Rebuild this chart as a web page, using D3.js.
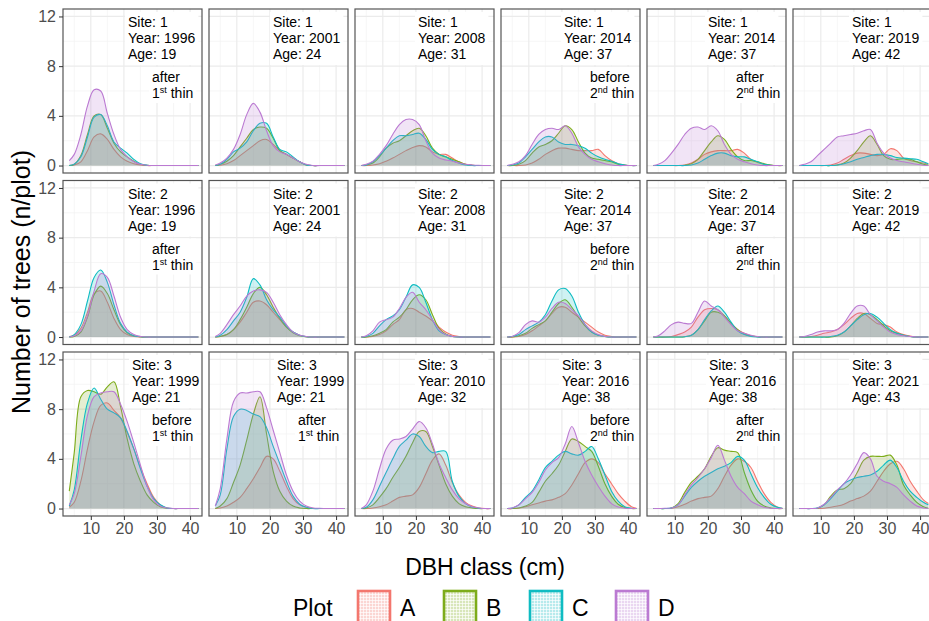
<!DOCTYPE html>
<html>
<head>
<meta charset="utf-8">
<script src="https://cdn.jsdelivr.net/npm/d3@7"></script>
<style>
  html, body { margin: 0; padding: 0; background: #fff; overflow: hidden; }
  svg { display: block; }
</style>
</head>
<body>
<div id="chart"></div>
<script>
// ---- data ----
const plots = ['A', 'B', 'C', 'D']
const plotColors = ['#F3776E', '#7DAC1A', '#0FBCC2', '#BB7AD2']
const dbh = [3.5, 5, 7, 9, 11, 13, 15, 17, 19, 21, 23, 25, 27, 29, 31, 33, 35, 37, 39, 41, 42.5]
const xTicks = [10, 20, 30, 40]
const xMinor = [5, 15, 25, 35]
const yTicks = [0, 4, 8, 12]
const yMinor = [2, 6, 10]

const sites = ['1', '1', '1', '1', '1', '1', '2', '2', '2', '2', '2', '2', '3', '3', '3', '3', '3', '3']
const years = ['1996', '2001', '2008', '2014', '2014', '2019', '1996', '2001', '2008', '2014', '2014', '2019',
  '1999', '1999', '2010', '2016', '2016', '2021']
const ages = ['19', '24', '31', '37', '37', '42', '19', '24', '31', '37', '37', '42',
  '21', '21', '32', '38', '38', '43']
const notes = ['after', null, null, 'before', 'after', null, 'after', null, null, 'before', 'after', null,
  'before', 'after', null, 'before', 'after', null]
const thinNo = ['1', null, null, '2', '2', null, '1', null, null, '2', '2', null,
  '1', '1', null, '2', '2', null]

// number of trees per plot by DBH class, rows = plots A, B, C, D
const site1_1996 = [
  [0, 0.05, 0.3, 1.2, 2.3, 2.55, 2.1, 1.3, 0.7, 0.35, 0.15, 0.05, 0, 0, 0, 0, 0, 0, 0, 0, 0],
  [0, 0.1, 0.8, 2.5, 4.0, 4.1, 3.0, 1.8, 1.1, 0.7, 0.35, 0.1, 0.02, 0, 0, 0, 0, 0, 0, 0, 0],
  [0, 0.1, 0.7, 2.3, 3.9, 4.1, 3.2, 1.9, 1.4, 1.0, 0.5, 0.15, 0.03, 0, 0, 0, 0, 0, 0, 0, 0],
  [0.4, 0.9, 2.5, 4.8, 6.1, 6.0, 4.2, 2.5, 1.3, 0.7, 0.3, 0.1, 0.02, 0, 0, 0, 0, 0, 0, 0, 0]
]
const site1_2001 = [
  [0, 0.03, 0.15, 0.4, 0.8, 1.2, 1.6, 2.0, 2.1, 1.7, 1.2, 0.9, 0.6, 0.3, 0.05, 0, 0, 0, 0, 0, 0],
  [0, 0.1, 0.35, 0.8, 1.5, 2.2, 2.9, 3.1, 3.0, 2.2, 1.2, 0.9, 0.6, 0.3, 0.05, 0, 0, 0, 0, 0, 0],
  [0, 0.1, 0.5, 1.1, 1.4, 1.9, 2.8, 3.4, 3.4, 2.3, 1.3, 1.1, 0.7, 0.3, 0.05, 0, 0, 0, 0, 0, 0],
  [0.05, 0.2, 0.6, 1.3, 2.5, 4.1, 5.0, 4.3, 2.8, 1.6, 1.1, 0.9, 0.6, 0.3, 0.1, 0, 0, 0, 0, 0, 0]
]
const site1_2008 = [
  [0, 0, 0.05, 0.15, 0.35, 0.6, 0.9, 1.2, 1.45, 1.6, 1.5, 1.1, 0.9, 0.9, 0.6, 0.3, 0.1, 0.03, 0, 0, 0],
  [0, 0.05, 0.2, 0.7, 1.4, 1.8, 2.0, 2.4, 2.8, 3.0, 2.4, 1.4, 0.9, 0.7, 0.5, 0.3, 0.1, 0.03, 0, 0, 0],
  [0, 0.05, 0.3, 0.8, 1.4, 2.0, 2.4, 2.4, 2.5, 2.6, 2.1, 1.3, 0.9, 0.7, 0.4, 0.2, 0.05, 0, 0, 0, 0],
  [0, 0.1, 0.35, 0.9, 1.6, 2.5, 3.3, 3.7, 3.7, 3.3, 2.0, 1.0, 0.6, 0.45, 0.35, 0.2, 0.1, 0.05, 0.02, 0, 0]
]
const site1_2014b = [
  [0, 0, 0, 0.05, 0.2, 0.5, 0.9, 1.2, 1.4, 1.4, 1.3, 1.2, 1.2, 1.2, 1.3, 0.8, 0.4, 0.15, 0.05, 0, 0],
  [0, 0, 0.1, 0.4, 1.0, 1.5, 1.7, 2.0, 2.6, 3.2, 2.9, 1.9, 1.0, 0.6, 0.5, 0.4, 0.3, 0.1, 0.03, 0, 0],
  [0, 0.05, 0.2, 0.7, 1.3, 1.9, 2.3, 2.3, 1.9, 1.7, 1.7, 1.6, 1.4, 1.0, 0.7, 0.5, 0.35, 0.15, 0.05, 0, 0],
  [0, 0.1, 0.3, 0.8, 1.7, 2.5, 2.9, 3.0, 2.9, 3.2, 2.6, 1.5, 0.9, 0.5, 0.3, 0.15, 0.05, 0, 0, 0, 0]
]
const site1_2014a = [
  [0, 0, 0, 0, 0, 0.05, 0.2, 0.5, 0.9, 1.1, 1.2, 1.2, 1.2, 1.3, 1.0, 0.5, 0.25, 0.1, 0.03, 0, 0],
  [0, 0, 0, 0, 0, 0.03, 0.15, 0.5, 1.2, 1.9, 2.4, 2.1, 1.3, 0.7, 0.4, 0.4, 0.3, 0.15, 0.05, 0, 0],
  [0, 0, 0, 0, 0, 0, 0.05, 0.2, 0.5, 0.8, 1.0, 1.0, 0.8, 0.7, 0.7, 0.5, 0.3, 0.1, 0.02, 0, 0],
  [0, 0.1, 0.4, 1.0, 1.7, 2.5, 3.0, 3.1, 2.9, 3.2, 2.8, 1.7, 0.9, 0.5, 0.3, 0.15, 0.05, 0, 0, 0, 0]
]
const site1_2019 = [
  [0, 0, 0, 0, 0, 0.05, 0.2, 0.5, 0.8, 1.0, 1.0, 0.9, 0.8, 0.9, 1.35, 1.2, 0.6, 0.4, 0.3, 0.2, 0.1],
  [0, 0, 0, 0, 0, 0, 0.05, 0.2, 0.6, 1.2, 1.9, 2.4, 1.7, 0.8, 0.5, 0.5, 0.55, 0.5, 0.3, 0.1, 0.03],
  [0, 0, 0, 0, 0, 0, 0.05, 0.15, 0.3, 0.5, 0.65, 0.8, 0.9, 0.9, 0.8, 0.65, 0.6, 0.55, 0.5, 0.3, 0.15],
  [0, 0.1, 0.3, 0.8, 1.3, 1.8, 2.3, 2.4, 2.5, 2.6, 2.8, 2.9, 1.8, 1.0, 0.6, 0.4, 0.3, 0.2, 0.1, 0.03, 0]
]
const site2_1996 = [
  [0.05, 0.15, 0.7, 2.0, 3.5, 3.7, 2.8, 1.5, 0.6, 0.2, 0.05, 0, 0, 0, 0, 0, 0, 0, 0, 0, 0],
  [0, 0.05, 0.4, 1.6, 3.4, 4.1, 3.5, 2.2, 1.0, 0.35, 0.1, 0.02, 0, 0, 0, 0, 0, 0, 0, 0, 0],
  [0, 0.2, 1.0, 2.9, 4.8, 5.4, 4.4, 2.6, 1.1, 0.4, 0.1, 0.03, 0, 0, 0, 0, 0, 0, 0, 0, 0],
  [0, 0.1, 0.5, 1.7, 3.7, 5.1, 4.8, 3.3, 1.6, 0.6, 0.2, 0.05, 0, 0, 0, 0, 0, 0, 0, 0, 0]
]
const site2_2001 = [
  [0, 0.05, 0.2, 0.6, 1.2, 2.0, 2.8, 2.9, 2.6, 2.0, 1.4, 0.8, 0.4, 0.15, 0.03, 0, 0, 0, 0, 0, 0],
  [0, 0.05, 0.2, 0.6, 1.4, 2.4, 3.5, 4.0, 3.4, 2.4, 1.5, 0.8, 0.35, 0.1, 0.02, 0, 0, 0, 0, 0, 0],
  [0, 0.15, 0.6, 1.3, 2.0, 3.2, 4.7, 4.2, 3.0, 2.2, 1.6, 0.9, 0.4, 0.15, 0.03, 0, 0, 0, 0, 0, 0],
  [0.05, 0.3, 1.0, 1.8, 2.5, 3.3, 3.7, 3.8, 3.6, 2.8, 1.8, 1.0, 0.4, 0.15, 0.05, 0, 0, 0, 0, 0, 0]
]
const site2_2008 = [
  [0, 0, 0.05, 0.2, 0.5, 1.0, 1.4, 2.2, 2.3, 2.0, 1.7, 1.3, 0.8, 0.4, 0.15, 0.05, 0, 0, 0, 0, 0],
  [0, 0, 0.1, 0.3, 0.6, 1.2, 1.6, 2.2, 3.0, 3.4, 3.0, 1.8, 0.7, 0.25, 0.05, 0, 0, 0, 0, 0, 0],
  [0, 0.05, 0.3, 0.9, 1.4, 1.7, 2.2, 3.2, 4.2, 4.0, 2.8, 1.4, 0.5, 0.2, 0.05, 0, 0, 0, 0, 0, 0],
  [0, 0.1, 0.5, 1.2, 1.4, 1.6, 2.3, 3.2, 3.6, 2.8, 2.2, 1.4, 0.6, 0.2, 0.05, 0, 0, 0, 0, 0, 0]
]
const site2_2014b = [
  [0, 0, 0.05, 0.2, 0.5, 0.9, 1.3, 1.9, 2.4, 2.4, 2.0, 1.6, 1.2, 0.8, 0.4, 0.15, 0.05, 0, 0, 0, 0],
  [0, 0, 0.1, 0.3, 0.7, 1.0, 1.3, 2.0, 2.7, 3.0, 2.4, 1.6, 0.9, 0.4, 0.15, 0.05, 0, 0, 0, 0, 0],
  [0, 0.05, 0.2, 0.6, 0.9, 1.2, 1.8, 2.9, 3.8, 3.9, 3.3, 2.0, 1.0, 0.4, 0.15, 0.05, 0, 0, 0, 0, 0],
  [0, 0.05, 0.35, 1.0, 1.3, 1.2, 1.6, 2.3, 2.8, 2.7, 2.2, 1.7, 1.0, 0.5, 0.2, 0.05, 0, 0, 0, 0, 0]
]
const site2_2014a = [
  [0, 0, 0, 0.05, 0.2, 0.4, 0.8, 1.6, 2.2, 2.3, 2.2, 1.7, 1.1, 0.6, 0.3, 0.1, 0.03, 0, 0, 0, 0],
  [0, 0, 0, 0, 0, 0.03, 0.15, 0.6, 1.3, 2.0, 2.0, 1.7, 1.1, 0.6, 0.25, 0.1, 0.03, 0, 0, 0, 0],
  [0, 0, 0, 0, 0, 0.03, 0.15, 0.6, 1.4, 2.1, 2.5, 2.0, 1.2, 0.5, 0.2, 0.05, 0, 0, 0, 0, 0],
  [0, 0.1, 0.5, 1.0, 1.2, 1.1, 1.1, 2.0, 2.9, 2.5, 2.2, 1.6, 1.0, 0.5, 0.3, 0.15, 0.05, 0, 0, 0, 0]
]
const site2_2019 = [
  [0, 0, 0.05, 0.15, 0.3, 0.4, 0.6, 1.0, 1.5, 1.9, 1.9, 1.5, 1.1, 1.0, 0.8, 0.4, 0.2, 0.08, 0, 0, 0],
  [0, 0, 0, 0, 0, 0, 0.1, 0.4, 0.9, 1.5, 1.9, 1.8, 1.4, 0.9, 0.5, 0.3, 0.15, 0.05, 0, 0, 0],
  [0, 0, 0, 0, 0, 0.05, 0.15, 0.4, 0.9, 1.4, 1.8, 1.9, 1.6, 1.1, 0.6, 0.3, 0.15, 0.05, 0, 0, 0],
  [0, 0.05, 0.2, 0.4, 0.5, 0.5, 0.6, 1.1, 1.9, 2.5, 2.5, 1.8, 1.3, 0.8, 0.4, 0.2, 0.1, 0.05, 0, 0, 0]
]
const site3_1999b = [
  [0.1, 0.5, 2.2, 4.8, 7.0, 8.3, 8.5, 7.9, 7.3, 6.1, 4.8, 3.3, 2.0, 0.9, 0.3, 0.05, 0, 0, 0, 0, 0],
  [1.4, 4.5, 9.0, 9.5, 9.4, 9.2, 9.8, 10.2, 8.2, 5.6, 3.6, 2.2, 1.1, 0.5, 0.15, 0.03, 0, 0, 0, 0, 0],
  [0.2, 1.5, 5.5, 8.5, 9.7, 8.8, 8.0, 7.7, 7.3, 6.2, 4.8, 3.2, 1.8, 0.8, 0.3, 0.05, 0, 0, 0, 0, 0],
  [0.3, 1.2, 4.2, 7.5, 9.0, 9.3, 9.4, 9.4, 8.4, 7.0, 5.3, 3.5, 1.8, 0.7, 0.2, 0.05, 0, 0, 0, 0, 0]
]
const site3_1999a = [
  [0, 0.05, 0.2, 0.5, 0.9, 1.6, 2.4, 3.3, 4.2, 4.0, 3.0, 1.8, 0.8, 0.3, 0.1, 0.02, 0, 0, 0, 0, 0],
  [0, 0.2, 0.8, 2.1, 3.5, 5.5, 7.6, 9.0, 6.0, 3.0, 1.4, 0.6, 0.2, 0.05, 0, 0, 0, 0, 0, 0, 0],
  [0.2, 1.1, 4.8, 7.4, 8.0, 7.9, 7.6, 7.4, 6.5, 5.0, 3.6, 2.2, 1.0, 0.35, 0.1, 0, 0, 0, 0, 0, 0],
  [0.2, 1.6, 5.6, 8.6, 9.3, 9.3, 9.4, 9.4, 8.1, 6.3, 4.5, 2.7, 1.4, 0.6, 0.2, 0.05, 0.02, 0, 0, 0, 0]
]
const site3_2010 = [
  [0, 0, 0.05, 0.15, 0.3, 0.6, 0.9, 1.0, 1.1, 1.7, 2.8, 3.9, 4.4, 3.5, 2.1, 1.1, 0.5, 0.2, 0.05, 0, 0],
  [0, 0.05, 0.3, 0.9, 1.6, 2.5, 3.3, 4.2, 5.3, 6.2, 6.2, 5.0, 3.5, 2.0, 1.0, 0.4, 0.15, 0.05, 0, 0, 0],
  [0, 0.1, 0.7, 1.8, 2.9, 4.0, 5.0, 5.5, 6.0, 5.8, 5.0, 4.5, 4.6, 4.6, 2.2, 1.0, 0.4, 0.12, 0.03, 0, 0],
  [0, 0.3, 1.4, 3.2, 4.8, 5.5, 5.6, 5.8, 6.4, 7.0, 6.5, 5.2, 3.6, 2.5, 1.5, 0.8, 0.4, 0.15, 0.05, 0, 0]
]
const site3_2016b = [
  [0, 0, 0.05, 0.15, 0.3, 0.45, 0.6, 0.7, 0.9, 1.2, 1.9, 2.8, 3.7, 4.0, 3.7, 2.8, 2.0, 1.2, 0.6, 0.15, 0.03],
  [0, 0, 0.05, 0.2, 0.5, 1.3, 2.2, 2.8, 3.5, 4.6, 5.6, 5.4, 5.0, 4.6, 3.4, 2.0, 1.0, 0.35, 0.08, 0, 0],
  [0, 0.05, 0.3, 0.9, 1.4, 2.3, 3.3, 3.8, 4.3, 4.6, 4.4, 4.3, 4.6, 5.0, 4.0, 2.7, 1.4, 0.6, 0.15, 0.03, 0],
  [0, 0.05, 0.3, 0.8, 1.3, 2.1, 3.1, 3.7, 4.1, 5.2, 6.6, 5.3, 3.8, 2.7, 1.8, 1.0, 0.4, 0.12, 0.03, 0, 0]
]
const site3_2016a = [
  [0, 0, 0, 0.03, 0.15, 0.35, 0.6, 0.8, 0.9, 1.0, 1.6, 2.6, 3.5, 4.0, 3.8, 3.3, 2.2, 1.2, 0.5, 0.12, 0.02],
  [0, 0, 0, 0.05, 0.4, 1.3, 2.1, 2.6, 3.2, 4.2, 4.9, 4.7, 4.6, 4.5, 2.9, 1.5, 0.6, 0.2, 0.05, 0, 0],
  [0, 0, 0, 0.05, 0.3, 1.0, 1.7, 2.2, 2.6, 2.9, 3.2, 3.4, 3.7, 4.2, 3.9, 2.8, 1.7, 0.9, 0.35, 0.1, 0.02],
  [0, 0, 0.02, 0.05, 0.3, 1.1, 1.9, 2.5, 3.2, 4.1, 5.1, 3.9, 2.6, 1.7, 1.2, 0.6, 0.3, 0.1, 0.03, 0, 0]
]
const site3_2021 = [
  [0, 0, 0, 0, 0.03, 0.1, 0.2, 0.35, 0.6, 0.8, 1.0, 1.4, 2.2, 3.0, 3.6, 3.8, 3.2, 2.2, 1.4, 0.7, 0.4],
  [0, 0, 0, 0.03, 0.3, 1.0, 1.5, 1.6, 2.0, 2.9, 3.9, 4.2, 4.2, 4.2, 4.3, 3.5, 1.9, 1.1, 0.5, 0.15, 0.03],
  [0, 0, 0, 0.05, 0.3, 0.8, 1.4, 2.0, 2.3, 2.5, 2.6, 2.7, 3.0, 3.5, 3.9, 3.3, 2.2, 1.4, 0.9, 0.5, 0.3],
  [0, 0, 0, 0.05, 0.35, 0.9, 1.5, 2.0, 2.7, 3.6, 4.5, 4.0, 2.6, 2.2, 2.0, 1.7, 1.1, 0.6, 0.2, 0.05, 0]
]

const panelSeries = [
  site1_1996, site1_2001, site1_2008, site1_2014b, site1_2014a, site1_2019,
  site2_1996, site2_2001, site2_2008, site2_2014b, site2_2014a, site2_2019,
  site3_1999b, site3_1999a, site3_2010, site3_2016b, site3_2016a, site3_2021
]

// ---- layout ----
const W = 929, H = 621
const nCols = 6
const colLeft = 63, colStep = 146, pw = 139
const rowTop = 9, rowStep = 171.5, ph = 164
const font = '"Liberation Sans", Arial, sans-serif'
const labelOffset = [[65, 64, 63, 63, 61, 59], [65, 64, 63, 63, 61, 59], [69, 68, 63, 61, 62, 59]]
const noteOffset = 89

const svg = d3.select('#chart').append('svg')
  .attr('width', W).attr('height', H)
  .attr('viewBox', `0 0 ${W} ${H}`)
  .style('font-family', font)

svg.append('rect').attr('width', W).attr('height', H).attr('fill', '#fff')

const x = d3.scaleLinear().domain([1.6, 43.6]).range([0, pw])
const y = d3.scaleLinear().domain([-0.6, 12.6]).range([ph, 0])

const curve = d3.curveCatmullRom.alpha(0.5)
const area = d3.area().x(d => x(d[0])).y0(y(0)).y1(d => y(d[1])).curve(curve)
const line = d3.line().x(d => x(d[0])).y(d => y(d[1])).curve(curve)

const defs = svg.append('defs')

panelSeries.forEach((series, i) => {
  const r = Math.floor(i / nCols), c = i % nCols
  const px = colLeft + c * colStep, py = rowTop + r * rowStep
  const g = svg.append('g').attr('transform', `translate(${px},${py})`)

  defs.append('clipPath').attr('id', `clip-${i}`)
    .append('rect').attr('width', pw).attr('height', ph)

  g.append('rect').attr('width', pw).attr('height', ph).attr('fill', '#fff')

  // grid
  const grid = g.append('g').attr('clip-path', `url(#clip-${i})`)
  grid.selectAll('line.xmin').data(xMinor).join('line')
    .attr('x1', d => x(d)).attr('x2', d => x(d)).attr('y1', 0).attr('y2', ph)
    .attr('stroke', '#F2F2F2').attr('stroke-width', 0.7)
  grid.selectAll('line.ymin').data(yMinor).join('line')
    .attr('y1', d => y(d)).attr('y2', d => y(d)).attr('x1', 0).attr('x2', pw)
    .attr('stroke', '#F2F2F2').attr('stroke-width', 0.7)
  grid.selectAll('line.xmaj').data(xTicks).join('line')
    .attr('x1', d => x(d)).attr('x2', d => x(d)).attr('y1', 0).attr('y2', ph)
    .attr('stroke', '#EBEBEB').attr('stroke-width', 1.2)
  grid.selectAll('line.ymaj').data(yTicks).join('line')
    .attr('y1', d => y(d)).attr('y2', d => y(d)).attr('x1', 0).attr('x2', pw)
    .attr('stroke', '#EBEBEB').attr('stroke-width', 1.2)

  // densities, drawn A -> D like ggplot
  const marks = g.append('g').attr('clip-path', `url(#clip-${i})`)
  series.forEach((vals, k) => {
    const pts = dbh.map((d, j) => [d, vals[j]])
    marks.append('path').attr('d', area(pts))
      .attr('fill', plotColors[k]).attr('fill-opacity', 0.2)
    marks.append('path').attr('d', line(pts))
      .attr('fill', 'none').attr('stroke', plotColors[k]).attr('stroke-width', 1.1)
  })

  // labels with white box
  const lx = labelOffset[r][c]
  const lab = g.append('g')
  const box = lab.append('rect').attr('fill', '#fff')
  const t = lab.append('g').attr('font-size', 14).attr('fill', '#000')
  ;[`Site: ${sites[i]}`, `Year: ${years[i]}`, `Age: ${ages[i]}`].forEach((s, k) => {
    t.append('text').attr('x', lx).attr('y', 18 + k * 16).text(s)
  })
  const bb = t.node().getBBox()
  box.attr('x', bb.x - 3).attr('y', bb.y - 2).attr('width', bb.width + 6).attr('height', bb.height + 5)

  if (notes[i]) {
    const nl = g.append('g')
    const nbox = nl.append('rect').attr('fill', '#fff')
    const nt = nl.append('g').attr('font-size', 14).attr('fill', '#000')
    nt.append('text').attr('x', noteOffset).attr('y', 73).text(notes[i])
    const t2 = nt.append('text').attr('x', noteOffset).attr('y', 89)
    t2.append('tspan').text(thinNo[i])
    t2.append('tspan').attr('font-size', 9).attr('dy', -5).text(thinNo[i] === '1' ? 'st' : 'nd')
    t2.append('tspan').attr('dy', 5).text(' thin')
    const nb = nt.node().getBBox()
    nbox.attr('x', nb.x - 3).attr('y', nb.y - 2).attr('width', nb.width + 6).attr('height', nb.height + 4)
  }

  g.append('rect').attr('width', pw).attr('height', ph)
    .attr('fill', 'none').attr('stroke', '#555').attr('stroke-width', 1.2)

  // axes on outer panels
  if (c === 0) {
    g.append('g')
      .call(d3.axisLeft(y).tickValues(yTicks).tickSize(4).tickPadding(3))
      .call(a => {
        a.select('.domain').remove()
        a.selectAll('.tick line').attr('stroke', '#333')
        a.selectAll('.tick text').attr('fill', '#4D4D4D').attr('font-size', 16)
          .attr('font-family', font)
      })
  }
  if (r === 2) {
    g.append('g').attr('transform', `translate(0,${ph})`)
      .call(d3.axisBottom(x).tickValues(xTicks).tickSize(4).tickPadding(3))
      .call(a => {
        a.select('.domain').remove()
        a.selectAll('.tick line').attr('stroke', '#333')
        a.selectAll('.tick text').attr('fill', '#4D4D4D').attr('font-size', 16)
          .attr('font-family', font)
      })
  }
})

// axis titles
svg.append('text')
  .attr('transform', 'translate(21,282) rotate(-90)')
  .attr('text-anchor', 'middle').attr('dominant-baseline', 'central')
  .attr('font-size', 25).attr('fill', '#000')
  .text('Number of trees (n/plot)')

svg.append('text')
  .attr('x', 485).attr('y', 567)
  .attr('text-anchor', 'middle').attr('dominant-baseline', 'central')
  .attr('font-size', 23).attr('fill', '#000')
  .text('DBH class (cm)')

// ---- legend ----
const legend = svg.append('g')
legend.append('text').attr('x', 293).attr('y', 608)
  .attr('dominant-baseline', 'central').attr('font-size', 23).attr('fill', '#000')
  .text('Plot')

plots.forEach((p, k) => {
  const pat = defs.append('pattern').attr('id', `pat-${k}`)
    .attr('patternUnits', 'userSpaceOnUse').attr('width', 3).attr('height', 3)
  pat.append('rect').attr('width', 3).attr('height', 3)
    .attr('fill', plotColors[k]).attr('fill-opacity', 0.3)
  pat.append('path').attr('d', 'M0,0.5H3M0.5,0V3')
    .attr('stroke', '#fff').attr('stroke-width', 0.8).attr('stroke-opacity', 0.85)

  const kx = 358 + k * 86
  legend.append('rect').attr('x', kx).attr('y', 591).attr('width', 32).attr('height', 32)
    .attr('fill', `url(#pat-${k})`)
    .attr('stroke', plotColors[k]).attr('stroke-width', 2.6)
  legend.append('text').attr('x', kx + 42).attr('y', 608)
    .attr('dominant-baseline', 'central').attr('font-size', 23).attr('fill', '#000')
    .text(p)
})
</script>
</body>
</html>
